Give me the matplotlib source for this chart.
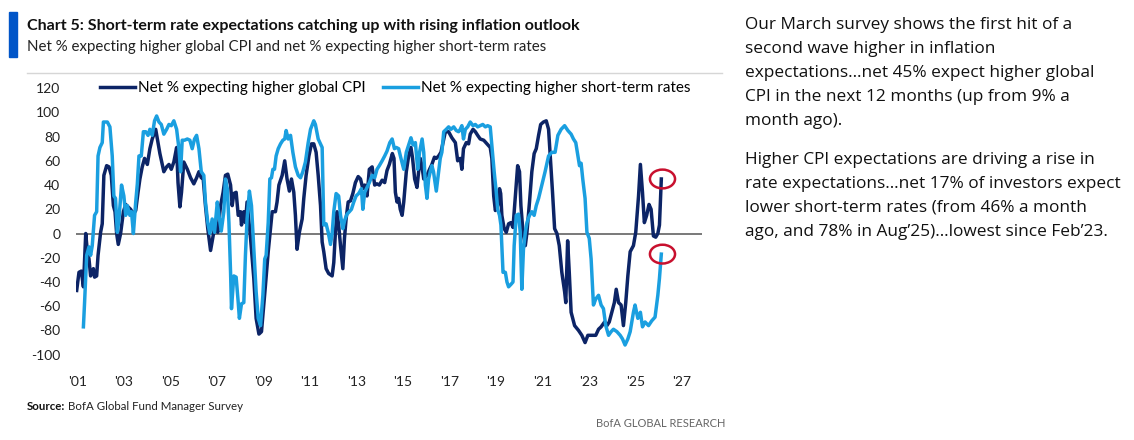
import matplotlib
matplotlib.use("Agg")
import matplotlib.pyplot as plt
from matplotlib.patches import Ellipse, Rectangle
from matplotlib.lines import Line2D

plt.rcParams["axes.unicode_minus"] = False

# ── data (decimal year, net %) ────────────────────────────────────────────────
cpi_t = [2000.97, 2001.07, 2001.17, 2001.26, 2001.36, 2001.43, 2001.50, 2001.57, 2001.69, 2001.74,
         2001.83, 2001.89, 2002.00, 2002.07, 2002.14, 2002.26, 2002.36, 2002.46, 2002.55, 2002.62,
         2002.69, 2002.76, 2002.86, 2002.98, 2003.08, 2003.18, 2003.29, 2003.41, 2003.51, 2003.61,
         2003.69, 2003.79, 2003.89, 2004.01, 2004.12, 2004.22, 2004.37, 2004.47, 2004.55, 2004.65,
         2004.72, 2004.84, 2004.94, 2005.04, 2005.15, 2005.27, 2005.33, 2005.41, 2005.48, 2005.58,
         2005.73, 2005.87, 2006.01, 2006.13, 2006.23, 2006.33, 2006.41, 2006.51, 2006.61, 2006.73,
         2006.84, 2006.94, 2007.04, 2007.16, 2007.27, 2007.37, 2007.47, 2007.59, 2007.66, 2007.73,
         2007.83, 2007.92, 2008.02, 2008.06, 2008.16, 2008.23, 2008.30, 2008.37, 2008.45, 2008.59,
         2008.69, 2008.81, 2008.92, 2009.02, 2009.09, 2009.21, 2009.31, 2009.38, 2009.52, 2009.59,
         2009.67, 2009.81, 2009.92, 2010.02, 2010.12, 2010.21, 2010.31, 2010.38, 2010.45, 2010.55,
         2010.67, 2010.74, 2010.84, 2010.96, 2011.07, 2011.17, 2011.27, 2011.36, 2011.46, 2011.53,
         2011.60, 2011.70, 2011.81, 2011.96, 2012.03, 2012.10, 2012.17, 2012.24, 2012.32, 2012.42,
         2012.49, 2012.56, 2012.65, 2012.75, 2012.85, 2012.96, 2013.08, 2013.18, 2013.28, 2013.36,
         2013.46, 2013.56, 2013.68, 2013.79, 2013.89, 2013.99, 2014.11, 2014.22, 2014.32, 2014.42,
         2014.55, 2014.62, 2014.68, 2014.75, 2014.82, 2014.89, 2014.97, 2015.04, 2015.15, 2015.25,
         2015.35, 2015.42, 2015.51, 2015.61, 2015.68, 2015.75, 2015.82, 2015.90, 2016.04, 2016.15,
         2016.25, 2016.36, 2016.44, 2016.54, 2016.64, 2016.76, 2016.83, 2016.97, 2017.11, 2017.26,
         2017.36, 2017.47, 2017.54, 2017.61, 2017.73, 2017.83, 2017.90, 2018.02, 2018.12, 2018.22,
         2018.33, 2018.48, 2018.62, 2018.76, 2018.83, 2018.91, 2018.98, 2019.08, 2019.16, 2019.21,
         2019.26, 2019.36, 2019.45, 2019.55, 2019.65, 2019.74, 2019.84, 2019.94, 2020.02, 2020.08,
         2020.17, 2020.27, 2020.34, 2020.45, 2020.55, 2020.65, 2020.74, 2020.84, 2020.93, 2021.05,
         2021.17, 2021.27, 2021.35, 2021.44, 2021.53, 2021.63, 2021.73, 2021.84, 2021.96, 2022.01,
         2022.09, 2022.16, 2022.24, 2022.39, 2022.56, 2022.70, 2022.84, 2022.96, 2023.13, 2023.30,
         2023.42, 2023.53, 2023.68, 2023.78, 2023.88, 2023.99, 2024.10, 2024.18, 2024.28, 2024.39,
         2024.49, 2024.59, 2024.68, 2024.78, 2024.92, 2025.02, 2025.14, 2025.22, 2025.31, 2025.39,
         2025.49, 2025.59, 2025.68, 2025.78, 2025.88, 2025.97, 2026.04, 2026.12]
cpi_v = [-47, -32, -31, -44, 0, -15, -21, -35, -29, -36,
         -35, -18, 1, 8, 48, 56, 55, 48, 23, 18,
         0, -9, 0, 18, 24, 22, 20, 16, 19, 34,
         45, 55, 62, 57, 70, 78, 86, 75, 66, 57,
         51, 55, 57, 53, 59, 71, 42, 22, 34, 59,
         53, 46, 41, 46, 51, 46, 46, 23, 4, -14,
         -2, 9, 1, 23, 34, 48, 49, 40, 23, 33,
         34, 15, 18, 7, 18, 9, 26, 12, -4, -37,
         -70, -83, -81, -59, -43, -15, 4, 18, 18, 26,
         40, 48, 60, 45, 35, 45, 34, 15, -13, 1,
         12, 29, 48, 64, 74, 74, 67, 48, 23, -7,
         -15, -29, -33, -35, -24, 1, 18, 7, -10, -29,
         -4, 12, 26, 27, 33, 42, 47, 45, 37, 40,
         31, 53, 55, 40, 41, 40, 44, 42, 52, 57,
         66, 62, 34, 26, 29, 20, 15, 26, 51, 64,
         71, 62, 45, 38, 51, 62, 56, 45, 48, 53,
         57, 63, 62, 64, 67, 78, 84, 84, 79, 75,
         60, 62, 53, 70, 75, 74, 82, 86, 84, 81,
         78, 77, 74, 71, 62, 31, 19, 23, 37, 33,
         15, 4, 1, 8, 9, 5, 31, 56, 51, 23,
         1, -10, 1, 26, 51, 66, 70, 81, 90, 92,
         93, 86, 62, 34, 4, 0, -10, -32, -48, -57,
         -6, -32, -65, -76, -80, -84, -90, -84, -84, -84,
         -79, -77, -73, -76, -73, -65, -57, -46, -57, -59,
         -76, -57, -35, -15, -10, 1, 31, 57, 34, 9,
         15, 24, 20, -2, -3, 0, 7, 45]

rate_t = [2001.26, 2001.31, 2001.40, 2001.50, 2001.57, 2001.64, 2001.74, 2001.83, 2001.89, 2001.97,
          2002.07, 2002.12, 2002.29, 2002.40, 2002.50, 2002.57, 2002.64, 2002.72, 2002.79, 2002.90,
          2003.00, 2003.08, 2003.15, 2003.26, 2003.33, 2003.41, 2003.51, 2003.58, 2003.65, 2003.75,
          2003.84, 2003.94, 2004.04, 2004.12, 2004.22, 2004.32, 2004.41, 2004.51, 2004.61, 2004.72,
          2004.84, 2004.94, 2005.04, 2005.15, 2005.27, 2005.37, 2005.44, 2005.51, 2005.61, 2005.73,
          2005.84, 2005.94, 2006.04, 2006.13, 2006.23, 2006.33, 2006.44, 2006.51, 2006.61, 2006.70,
          2006.80, 2006.90, 2007.02, 2007.09, 2007.19, 2007.30, 2007.37, 2007.45, 2007.52, 2007.59,
          2007.63, 2007.73, 2007.83, 2007.92, 2007.97, 2008.06, 2008.16, 2008.23, 2008.30, 2008.40,
          2008.49, 2008.59, 2008.69, 2008.78, 2008.88, 2008.98, 2009.06, 2009.12, 2009.21, 2009.28,
          2009.35, 2009.41, 2009.48, 2009.55, 2009.64, 2009.74, 2009.84, 2009.92, 2009.98, 2010.07,
          2010.17, 2010.27, 2010.38, 2010.50, 2010.60, 2010.70, 2010.81, 2010.93, 2011.03, 2011.17,
          2011.24, 2011.36, 2011.46, 2011.53, 2011.60, 2011.70, 2011.79, 2011.89, 2011.96, 2012.03,
          2012.13, 2012.24, 2012.32, 2012.42, 2012.50, 2012.60, 2012.70, 2012.79, 2012.89, 2012.99,
          2013.10, 2013.22, 2013.28, 2013.36, 2013.46, 2013.56, 2013.68, 2013.79, 2013.89, 2013.99,
          2014.11, 2014.22, 2014.32, 2014.44, 2014.54, 2014.64, 2014.72, 2014.82, 2014.92, 2015.04,
          2015.15, 2015.25, 2015.35, 2015.44, 2015.54, 2015.64, 2015.72, 2015.83, 2015.90, 2015.97,
          2016.04, 2016.11, 2016.18, 2016.25, 2016.32, 2016.44, 2016.54, 2016.61, 2016.68, 2016.76,
          2016.87, 2016.97, 2017.07, 2017.19, 2017.30, 2017.40, 2017.47, 2017.54, 2017.61, 2017.69,
          2017.79, 2017.90, 2018.02, 2018.12, 2018.22, 2018.33, 2018.44, 2018.55, 2018.65, 2018.76,
          2018.83, 2018.93, 2019.02, 2019.08, 2019.16, 2019.22, 2019.31, 2019.41, 2019.48, 2019.55,
          2019.65, 2019.74, 2019.79, 2019.88, 2019.98, 2020.05, 2020.12, 2020.19, 2020.27, 2020.34,
          2020.45, 2020.55, 2020.65, 2020.74, 2020.84, 2020.98, 2021.12, 2021.27, 2021.41, 2021.55,
          2021.67, 2021.81, 2021.96, 2022.10, 2022.24, 2022.34, 2022.44, 2022.53, 2022.60, 2022.67,
          2022.74, 2022.84, 2022.92, 2023.02, 2023.10, 2023.20, 2023.30, 2023.42, 2023.53, 2023.63,
          2023.73, 2023.85, 2023.96, 2024.06, 2024.21, 2024.35, 2024.45, 2024.56, 2024.68, 2024.78,
          2024.92, 2024.99, 2025.11, 2025.22, 2025.31, 2025.42, 2025.57, 2025.71, 2025.85, 2025.97,
          2026.04, 2026.12]
rate_v = [-77, -57, -18, -11, -18, -10, 15, 18, 64, 71,
          75, 92, 92, 88, 64, 31, 29, 1, 12, 40,
          31, 15, 23, 15, 18, 0, 26, 41, 64, 64,
          84, 84, 81, 86, 81, 93, 97, 92, 90, 82,
          86, 90, 89, 93, 86, 70, 51, 77, 77, 78,
          77, 70, 78, 81, 70, 51, 48, 26, 9, 0,
          12, 1, 26, 15, 2, 18, 45, 37, 9, -32,
          -62, -35, -36, -57, -70, -58, -57, -18, 12, 35,
          23, -13, -48, -70, -76, -51, -21, -18, 9, 45,
          46, 53, 53, 64, 70, 74, 77, 78, 85, 78,
          81, 67, 55, 48, 46, 51, 59, 75, 86, 93,
          90, 78, 74, 71, 7, 8, 1, -9, 0, 18,
          33, 31, 15, 4, 11, 16, 18, 20, 26, 31,
          33, 37, 20, 34, 38, 42, 48, 46, 53, 56,
          60, 64, 68, 75, 78, 70, 71, 70, 62, 53,
          67, 73, 79, 73, 75, 53, 67, 78, 67, 40,
          29, 45, 51, 56, 51, 35, 51, 62, 67, 84,
          86, 88, 86, 88, 85, 84, 86, 89, 78, 86,
          88, 92, 89, 90, 88, 89, 90, 88, 89, 88,
          73, 51, 34, 20, 15, 7, -32, -32, -40, -44,
          -42, -40, -10, 15, 16, 1, -46, -13, 1, 9,
          15, 18, 15, 23, 29, 40, 51, 64, 67, 67,
          81, 86, 89, 85, 82, 78, 75, 64, 56, 58,
          45, 29, 1, -4, -21, -59, -54, -51, -59, -62,
          -76, -84, -81, -79, -81, -84, -87, -92, -87, -81,
          -65, -59, -70, -65, -77, -73, -76, -72, -69, -51,
          -37, -17]

tick_years = list(range(2001, 2028, 2))
tick_labels = ["'" + str(y)[2:] for y in tick_years]
y_ticks = list(range(-100, 121, 20))

cpi_label = "Net % expecting higher global CPI"
rate_label = "Net % expecting higher short-term rates"

right_par1 = ["Our March survey shows the first hit of a",
              "second wave higher in inflation",
              "expectations\u2026net 45% expect higher global",
              "CPI in the next 12 months (up from 9% a",
              "month ago)."]
right_par2 = ["Higher CPI expectations are driving a rise in",
              "rate expectations\u2026net 17% of investors expect",
              "lower short-term rates (from 46% a month",
              "ago, and 78% in Aug\u201925)\u2026lowest since Feb\u201923."]

NAVY = "#0c2466"
LIGHT = "#1a9fe0"
RED = "#c8102e"
BODY = ["Lato", "DejaVu Sans"]
SIDE = ["Open Sans", "DejaVu Sans"]

W, H = 1134, 440


def fx(px):
    return px / W


def fy(py):
    return 1 - py / H


fig = plt.figure(figsize=(W / 100, H / 100), dpi=100)

# ── header ───────────────────────────────────────────────────────────────────
fig.patches.append(Rectangle((fx(8.5), fy(57)), fx(17) - fx(8.5), fy(12) - fy(57),
                             transform=fig.transFigure, color="#0055c8", zorder=3))
fig.text(fx(27), fy(26), "Chart 5: Short-term rate expectations catching up with rising inflation outlook",
         family=BODY, fontweight="bold", fontsize=11.5, color="#111111", va="center")
fig.text(fx(27), fy(47), "Net % expecting higher global CPI and net % expecting higher short-term rates",
         family=BODY, fontsize=10.8, color="#222222", va="center")
fig.lines.append(Line2D([fx(27), fx(722)], [fy(73), fy(73)], transform=fig.transFigure,
                        color="#d6d6d6", lw=1))

# ── chart ────────────────────────────────────────────────────────────────────
left_px, right_px = 76.2, 702
top_px, bot_px = 88.1, 354.7
ax = fig.add_axes([fx(left_px), fy(bot_px), fx(right_px) - fx(left_px), (bot_px - top_px) / H])

ax.axhline(0, color="#555555", lw=1.1, zorder=1)
l1, = ax.plot(cpi_t, cpi_v, color=NAVY, lw=2.5, solid_joinstyle="round", zorder=2)
l2, = ax.plot(rate_t, rate_v, color=LIGHT, lw=2.5, solid_joinstyle="round", zorder=3)

# red circles around the latest readings
for t, v in [(cpi_t[-1], cpi_v[-1]), (rate_t[-1], rate_v[-1])]:
    ax.add_patch(Ellipse((t + 0.05, v), width=1.08, height=15.5, fill=False,
                         edgecolor=RED, lw=1.8, zorder=4))

ax.set_xlim(2000.95, 2027.87)
ax.set_ylim(-100, 120)
ax.set_xticks(tick_years)
ax.set_xticklabels(tick_labels)
ax.set_yticks(y_ticks)
for s in ax.spines.values():
    s.set_visible(False)
ax.tick_params(length=0, labelsize=10, colors="#222222")
ax.tick_params(axis="y", pad=11.5)
ax.tick_params(axis="x", pad=15)
for lab in ax.get_xticklabels() + ax.get_yticklabels():
    lab.set_family(BODY)

ax.legend([l1, l2], [cpi_label, rate_label], ncol=2, frameon=False,
          loc="center left", bbox_to_anchor=(fx(100), fy(88)), bbox_transform=fig.transFigure,
          borderpad=0, borderaxespad=0, handlelength=2.3, handletextpad=0.2,
          columnspacing=1.1, prop={"family": BODY, "size": 11})

# ── footer ───────────────────────────────────────────────────────────────────
src = fig.text(fx(27), fy(406), "Source:", family=BODY, fontweight="bold", fontsize=8.3,
               color="#111111", va="center")
fig.canvas.draw()
bb = src.get_window_extent()
fig.text(bb.x1 / W + fx(2.5), fy(406), "BofA Global Fund Manager Survey", family=BODY,
         fontsize=8.3, color="#222222", va="center")
fig.text(fx(725), fy(423), "BofA GLOBAL RESEARCH", family=BODY, fontsize=8,
         color="#666666", va="center", ha="right")

# ── commentary on the right ──────────────────────────────────────────────────
for i, line in enumerate(right_par1):
    fig.text(fx(745), fy(25 + 24 * i), line, family=SIDE,
             fontsize=12.4, color="#111111", va="center")
for i, line in enumerate(right_par2):
    fig.text(fx(745), fy(160 + 24 * i), line, family=SIDE,
             fontsize=12.4, color="#111111", va="center")

plt.savefig("out.png", dpi=100)
plt.close()
